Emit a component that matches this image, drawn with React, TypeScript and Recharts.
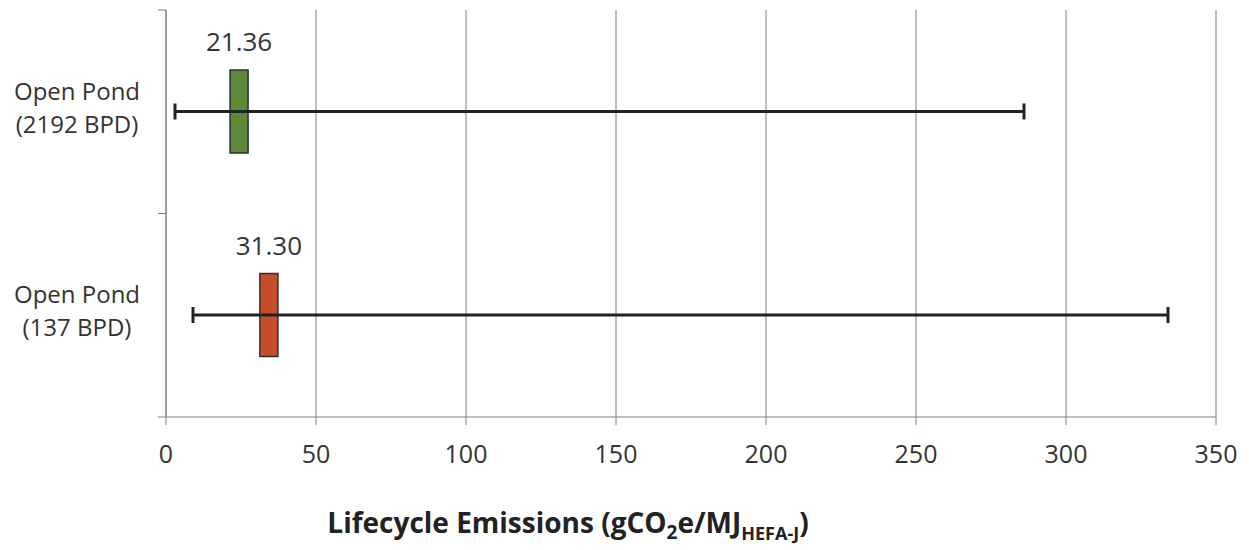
import { Bar, BarChart, CartesianGrid, Cell, ErrorBar, LabelList, XAxis, YAxis } from "recharts";

// pathway names (split onto two lines at the bracket)
const pathways = ["Open Pond (2192 BPD)", "Open Pond (137 BPD)"];
// baseline lifecycle emissions, gCO2e/MJ
const baseline = [21.36, 31.3];
// low / high ends of the uncertainty range
const lowEstimate = [3, 9];
const highEstimate = [286, 334];
const boxColors = ["#5b8b3a", "#c64e2b"];
const xTicks = [0, 50, 100, 150, 200, 250, 300, 350];

// width of the baseline marker box, in x units
const BOX_SPAN = 6;

const data = pathways.map((name, i) => ({
  name,
  base: baseline[i],
  box: [baseline[i], baseline[i] + BOX_SPAN],
  err: [baseline[i] - lowEstimate[i], highEstimate[i] - baseline[i]],
}));

const FONT = "'Open Sans', sans-serif";
const AXIS_GRAY = "#7f7f7f";

const CategoryTick = (props: any) => {
  const { x, y, payload } = props;
  const value: string = payload.value;
  const cut = value.indexOf(" (");
  const line1 = value.slice(0, cut);
  const line2 = value.slice(cut + 1);
  const half = payload.offset ?? 101;
  return (
    <g>
      <line x1={x - 8} x2={x} y1={y - half} y2={y - half} stroke={AXIS_GRAY} />
      <line x1={x - 8} x2={x} y1={y + half} y2={y + half} stroke={AXIS_GRAY} />
      <text x={x - 89} y={y - 12} textAnchor="middle" fill="#333" fontSize={24} fontFamily={FONT}>
        {line1}
      </text>
      <text x={x - 89} y={y + 21} textAnchor="middle" fill="#333" fontSize={24} fontFamily={FONT}>
        {line2}
      </text>
    </g>
  );
};

const AxisTitle = (props: any) => {
  const { viewBox } = props;
  const cx = viewBox.x + 402;
  const cy = viewBox.y + 116;
  return (
    <text x={cx} y={cy} textAnchor="middle" fill="#222" fontSize={28} fontWeight={700} fontFamily={FONT}>
      Lifecycle Emissions (gCO
      <tspan fontSize={19} dy={6}>2</tspan>
      <tspan dy={-6}>e/MJ</tspan>
      <tspan fontSize={18} dy={7}>HEFA-J</tspan>
      <tspan dy={-7}>)</tspan>
    </text>
  );
};

export default function App() {
  return (
    <div style={{ position: "absolute", left: 0, top: 0, width: 1249, height: 550, background: "#fff" }}>
      <BarChart
        width={1249}
        height={550}
        data={data}
        layout="vertical"
        margin={{ top: 10, right: 33, bottom: 0, left: 0 }}
      >
        <CartesianGrid horizontal={false} stroke={AXIS_GRAY} />
        <XAxis
          type="number"
          domain={[0, 350]}
          ticks={xTicks}
          height={133}
          tickSize={8}
          tickMargin={20}
          stroke={AXIS_GRAY}
          tick={{ fill: "#333", fontSize: 25, fontFamily: FONT }}
          label={<AxisTitle />}
        />
        <YAxis
          type="category"
          dataKey="name"
          width={166}
          tickSize={0}
          tickMargin={0}
          stroke={AXIS_GRAY}
          tick={<CategoryTick />}
        />
        <YAxis yAxisId="range" type="category" dataKey="name" hide />
        <Bar dataKey="base" yAxisId="range" fill="none" barSize={83} isAnimationActive={false}>
          <ErrorBar dataKey="err" direction="x" width={8} stroke="#222" strokeWidth={3} />
        </Bar>
        <Bar dataKey="box" barSize={83} stroke="#2f2f2f" strokeWidth={1.5} isAnimationActive={false}>
          {data.map((d, i) => (
            <Cell key={d.name} fill={boxColors[i]} />
          ))}
          <LabelList
            dataKey="base"
            position="top"
            offset={19}
            fill="#333"
            fontSize={26}
            fontFamily={FONT}
            formatter={(v: any) => Number(v).toFixed(2)}
          />
        </Bar>
      </BarChart>
    </div>
  );
}
